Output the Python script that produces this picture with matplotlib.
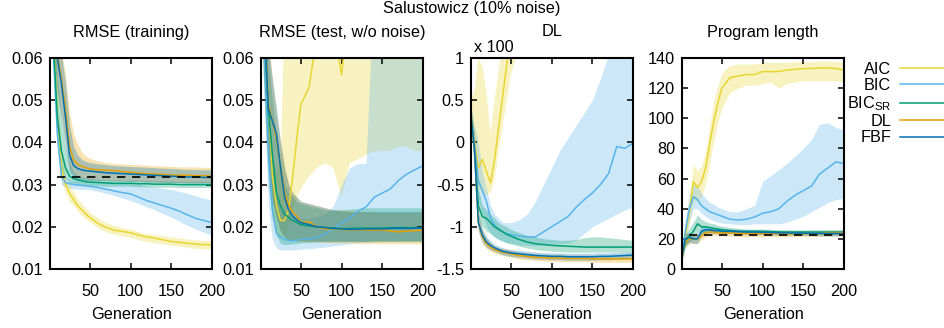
import numpy as np
import matplotlib
matplotlib.use("Agg")
import matplotlib.pyplot as plt
from matplotlib.lines import Line2D

plt.rcParams['font.family'] = ['Liberation Sans', 'DejaVu Sans']
plt.rcParams['mathtext.fontset'] = 'custom'
plt.rcParams['mathtext.rm'] = 'Liberation Sans'
plt.rcParams['mathtext.it'] = 'Liberation Sans:italic'
FS = 11.7

# ---------------- data ----------------
gens = [1, 5, 10, 15, 20, 25, 30, 35, 40, 45, 50, 60, 70, 80, 90, 100,
        110, 120, 130, 140, 150, 160, 170, 180, 190, 200]
methods = ["AIC", "BIC", "BIC$_{\\mathrm{SR}}$", "DL", "FBF"]
colors = ["#e8d630", "#56b4e9", "#009e73", "#e69f00", "#0072b2"]

panel_titles = ["RMSE (training)", "RMSE (test, w/o noise)", "DL", "Program length"]
suptitle = "Salustowicz (10% noise)"

# Panel 1: RMSE (training)
rmse_train_mean = {
    "AIC": [0.080, 0.066, 0.046, 0.034, 0.030, 0.028, 0.0265, 0.025, 0.024, 0.023, 0.0222, 0.0208, 0.0198, 0.0192, 0.0189, 0.0186, 0.0180, 0.0176, 0.0173, 0.0169, 0.0165, 0.0163, 0.0161, 0.0159, 0.0158, 0.0157],
    "BIC": [0.078, 0.062, 0.042, 0.032, 0.0305, 0.0302, 0.0300, 0.0299, 0.0298, 0.0297, 0.0296, 0.0293, 0.0289, 0.0285, 0.0281, 0.0278, 0.0270, 0.0262, 0.0256, 0.0250, 0.0244, 0.0237, 0.0228, 0.0220, 0.0215, 0.0210],
    "BICSR": [0.078, 0.064, 0.046, 0.038, 0.034, 0.032, 0.0314, 0.0311, 0.0309, 0.0307, 0.0306, 0.0305, 0.0304, 0.0303, 0.0303, 0.0303, 0.0302, 0.0302, 0.0301, 0.0301, 0.0301, 0.0300, 0.0300, 0.0300, 0.0300, 0.0300],
    "DL": [0.080, 0.069, 0.061, 0.055, 0.048, 0.039, 0.0358, 0.0348, 0.0343, 0.0340, 0.0337, 0.0335, 0.0334, 0.0333, 0.0331, 0.0329, 0.0327, 0.0326, 0.0325, 0.0324, 0.0323, 0.0322, 0.0322, 0.0321, 0.0321, 0.0320],
    "FBF": [0.080, 0.068, 0.060, 0.054, 0.046, 0.037, 0.0345, 0.0338, 0.0335, 0.0333, 0.0332, 0.0330, 0.0328, 0.0327, 0.0326, 0.0325, 0.0324, 0.0323, 0.0322, 0.0321, 0.0320, 0.0319, 0.0318, 0.0318, 0.0317, 0.0317],
}
rmse_train_lo = {
    "AIC": [0.075, 0.060, 0.040, 0.031, 0.028, 0.026, 0.0250, 0.0237, 0.0227, 0.0218, 0.0211, 0.0197, 0.0188, 0.0182, 0.0178, 0.0175, 0.0169, 0.0165, 0.0162, 0.0159, 0.0156, 0.0154, 0.0151, 0.0149, 0.0148, 0.0147],
    "BIC": [0.074, 0.057, 0.038, 0.030, 0.0295, 0.0292, 0.0290, 0.0289, 0.0288, 0.0288, 0.0288, 0.0284, 0.0279, 0.0274, 0.0268, 0.0262, 0.0255, 0.0247, 0.0240, 0.0231, 0.0223, 0.0213, 0.0203, 0.0195, 0.0187, 0.0180],
    "BICSR": [0.074, 0.058, 0.040, 0.034, 0.0315, 0.0305, 0.0302, 0.0300, 0.0299, 0.0298, 0.0297, 0.0297, 0.0296, 0.0296, 0.0296, 0.0296, 0.0295, 0.0295, 0.0294, 0.0294, 0.0294, 0.0293, 0.0293, 0.0293, 0.0293, 0.0293],
    "DL": [0.075, 0.062, 0.052, 0.046, 0.040, 0.034, 0.0325, 0.0318, 0.0315, 0.0313, 0.0312, 0.0311, 0.0310, 0.0310, 0.0309, 0.0309, 0.0308, 0.0307, 0.0307, 0.0306, 0.0306, 0.0305, 0.0305, 0.0305, 0.0305, 0.0305],
    "FBF": [0.075, 0.062, 0.052, 0.046, 0.039, 0.033, 0.0318, 0.0313, 0.0311, 0.0310, 0.0310, 0.0309, 0.0309, 0.0308, 0.0308, 0.0307, 0.0307, 0.0306, 0.0306, 0.0305, 0.0305, 0.0305, 0.0304, 0.0304, 0.0304, 0.0304],
}
rmse_train_hi = {
    "AIC": [0.085, 0.072, 0.052, 0.038, 0.032, 0.0300, 0.0282, 0.0267, 0.0255, 0.0244, 0.0235, 0.0220, 0.0210, 0.0203, 0.0198, 0.0195, 0.0188, 0.0184, 0.0182, 0.0179, 0.0176, 0.0174, 0.0171, 0.0169, 0.0168, 0.0167],
    "BIC": [0.082, 0.067, 0.047, 0.035, 0.0318, 0.0312, 0.0310, 0.0309, 0.0308, 0.0308, 0.0308, 0.0307, 0.0306, 0.0305, 0.0303, 0.0302, 0.0300, 0.0297, 0.0294, 0.0291, 0.0288, 0.0284, 0.0279, 0.0273, 0.0268, 0.0264],
    "BICSR": [0.082, 0.070, 0.055, 0.046, 0.039, 0.035, 0.0330, 0.0322, 0.0318, 0.0316, 0.0315, 0.0313, 0.0312, 0.0311, 0.0311, 0.0311, 0.0310, 0.0310, 0.0309, 0.0309, 0.0309, 0.0308, 0.0308, 0.0308, 0.0308, 0.0308],
    "DL": [0.085, 0.075, 0.068, 0.062, 0.056, 0.047, 0.042, 0.0395, 0.0378, 0.0368, 0.0362, 0.0356, 0.0352, 0.0350, 0.0349, 0.0348, 0.0347, 0.0346, 0.0345, 0.0344, 0.0343, 0.0342, 0.0342, 0.0342, 0.0341, 0.0340],
    "FBF": [0.085, 0.075, 0.067, 0.061, 0.054, 0.044, 0.0390, 0.0370, 0.0360, 0.0355, 0.0352, 0.0349, 0.0347, 0.0345, 0.0344, 0.0343, 0.0342, 0.0341, 0.0340, 0.0339, 0.0338, 0.0337, 0.0336, 0.0336, 0.0335, 0.0335],
}

# Panel 2: RMSE (test, w/o noise)
rmse_test_mean = {
    "AIC": [0.080, 0.068, 0.050, 0.032, 0.025, 0.0215, 0.0215, 0.024, 0.032, 0.041, 0.049, 0.053, 0.066, 0.075, 0.068, 0.056, 0.075, 0.085, 0.090, 0.100, 0.100, 0.110, 0.110, 0.120, 0.120, 0.120],
    "BIC": [0.080, 0.062, 0.038, 0.024, 0.0185, 0.0175, 0.0170, 0.0168, 0.0167, 0.0168, 0.0170, 0.0171, 0.0175, 0.0183, 0.0195, 0.0210, 0.0220, 0.0237, 0.0247, 0.0270, 0.0280, 0.0290, 0.0310, 0.0325, 0.0335, 0.0345],
    "BICSR": [0.080, 0.066, 0.048, 0.037, 0.028, 0.025, 0.023, 0.0222, 0.0215, 0.0210, 0.0205, 0.0202, 0.0200, 0.0198, 0.0197, 0.0196, 0.0196, 0.0197, 0.0197, 0.0197, 0.0197, 0.0198, 0.0198, 0.0198, 0.0198, 0.0198],
    "DL": [0.080, 0.070, 0.049, 0.045, 0.041, 0.034, 0.028, 0.025, 0.0235, 0.0225, 0.0210, 0.0212, 0.0200, 0.0195, 0.0195, 0.0194, 0.0193, 0.0193, 0.0193, 0.0192, 0.0193, 0.0190, 0.0188, 0.0190, 0.0191, 0.0192],
    "FBF": [0.080, 0.070, 0.048, 0.045, 0.042, 0.034, 0.027, 0.024, 0.0225, 0.0216, 0.0210, 0.0205, 0.0200, 0.0198, 0.0196, 0.0195, 0.0194, 0.0194, 0.0195, 0.0195, 0.0195, 0.0196, 0.0197, 0.0196, 0.0197, 0.0197],
}
rmse_test_lo = {
    "AIC": [0.070, 0.055, 0.035, 0.022, 0.018, 0.017, 0.018, 0.020, 0.024, 0.027, 0.029, 0.032, 0.034, 0.035, 0.034, 0.027, 0.035, 0.036, 0.037, 0.038, 0.038, 0.038, 0.039, 0.039, 0.038, 0.038],
    "BIC": [0.070, 0.050, 0.025, 0.017, 0.015, 0.0145, 0.0145, 0.0145, 0.0145, 0.0146, 0.0147, 0.0148, 0.0150, 0.0152, 0.0155, 0.0157, 0.0160, 0.0162, 0.0163, 0.0164, 0.0165, 0.0165, 0.0165, 0.0166, 0.0166, 0.0166],
    "BICSR": [0.070, 0.050, 0.030, 0.022, 0.018, 0.016, 0.0158, 0.0158, 0.0160, 0.0160, 0.0162, 0.0163, 0.0164, 0.0165, 0.0165, 0.0165, 0.0165, 0.0165, 0.0165, 0.0165, 0.0165, 0.0165, 0.0165, 0.0165, 0.0165, 0.0165],
    "DL": [0.070, 0.055, 0.035, 0.026, 0.022, 0.019, 0.0175, 0.0170, 0.0168, 0.0166, 0.0165, 0.0165, 0.0164, 0.0163, 0.0162, 0.0162, 0.0162, 0.0161, 0.0161, 0.0161, 0.0160, 0.0160, 0.0160, 0.0160, 0.0160, 0.0160],
    "FBF": [0.070, 0.055, 0.035, 0.026, 0.022, 0.019, 0.0175, 0.0170, 0.0168, 0.0167, 0.0167, 0.0166, 0.0166, 0.0166, 0.0166, 0.0166, 0.0166, 0.0166, 0.0166, 0.0167, 0.0167, 0.0167, 0.0167, 0.0167, 0.0167, 0.0167],
}
rmse_test_hi = {
    "AIC": [0.090, 0.075, 0.050, 0.038, 0.033, 0.034, 0.070, 0.100, 0.120, 0.130, 0.140, 0.150, 0.150, 0.160, 0.160, 0.160, 0.170, 0.170, 0.170, 0.180, 0.180, 0.180, 0.180, 0.180, 0.180, 0.180],
    "BIC": [0.090, 0.075, 0.050, 0.035, 0.027, 0.025, 0.024, 0.023, 0.0225, 0.0222, 0.0220, 0.0220, 0.0225, 0.0230, 0.0250, 0.0300, 0.0340, 0.0350, 0.0350, 0.0800, 0.0900, 0.0900, 0.0900, 0.0900, 0.0900, 0.0900],
    "BICSR": [0.090, 0.080, 0.060, 0.050, 0.042, 0.035, 0.030, 0.028, 0.027, 0.026, 0.0255, 0.0250, 0.0245, 0.0240, 0.0240, 0.0240, 0.0242, 0.0243, 0.0245, 0.0245, 0.0245, 0.0245, 0.0245, 0.0245, 0.0245, 0.0245],
    "DL": [0.090, 0.080, 0.065, 0.055, 0.047, 0.040, 0.034, 0.030, 0.028, 0.027, 0.026, 0.0255, 0.0250, 0.0245, 0.0240, 0.0240, 0.0238, 0.0237, 0.0236, 0.0235, 0.0235, 0.0235, 0.0235, 0.0235, 0.0235, 0.0235],
    "FBF": [0.090, 0.080, 0.063, 0.055, 0.048, 0.040, 0.034, 0.030, 0.028, 0.027, 0.026, 0.0255, 0.0250, 0.0245, 0.0240, 0.0238, 0.0236, 0.0236, 0.0236, 0.0236, 0.0236, 0.0236, 0.0236, 0.0236, 0.0236, 0.0236],
}

# Panel 3: DL (x 100)
dl_mean = {
    "AIC": [0.35, 0.05, -0.30, -0.20, -0.35, -0.48, -0.20, 0.18, 0.55, 0.93, 1.30, 1.80, 2.20, 2.50, 2.80, 3.00, 3.20, 3.40, 3.50, 3.60, 3.70, 3.80, 3.90, 4.00, 4.00, 4.00],
    "BIC": [0.35, 0.00, -0.45, -0.57, -0.70, -0.90, -0.98, -1.03, -1.06, -1.08, -1.09, -1.11, -1.12, -1.12, -1.06, -1.00, -0.94, -0.88, -0.77, -0.68, -0.60, -0.50, -0.37, -0.05, -0.07, -0.01],
    "BICSR": [0.30, -0.05, -0.75, -0.88, -0.90, -0.95, -1.00, -1.03, -1.06, -1.09, -1.11, -1.15, -1.18, -1.20, -1.21, -1.22, -1.225, -1.23, -1.235, -1.24, -1.24, -1.24, -1.24, -1.24, -1.24, -1.24],
    "DL": [0.30, -0.05, -0.95, -1.12, -1.20, -1.24, -1.27, -1.29, -1.30, -1.31, -1.32, -1.34, -1.35, -1.36, -1.365, -1.37, -1.37, -1.375, -1.375, -1.375, -1.38, -1.38, -1.38, -1.38, -1.38, -1.38],
    "FBF": [0.30, -0.05, -0.95, -1.10, -1.18, -1.22, -1.25, -1.27, -1.29, -1.30, -1.31, -1.32, -1.33, -1.34, -1.345, -1.35, -1.35, -1.355, -1.355, -1.355, -1.355, -1.35, -1.35, -1.345, -1.34, -1.335],
}
dl_lo = {
    "AIC": [0.25, -0.10, -0.55, -0.60, -0.62, -0.60, -0.45, -0.10, 0.20, 0.50, 0.80, 1.10, 1.40, 1.60, 1.80, 2.00, 2.10, 2.20, 2.30, 2.40, 2.50, 2.60, 2.60, 2.70, 2.70, 2.70],
    "BIC": [0.25, -0.30, -0.70, -0.85, -1.00, -1.08, -1.12, -1.15, -1.17, -1.19, -1.20, -1.21, -1.22, -1.22, -1.22, -1.20, -1.20, -1.19, -1.16, -1.08, -1.00, -0.95, -0.90, -0.85, -0.80, -0.77],
    "BICSR": [0.20, -0.20, -0.90, -1.00, -1.05, -1.08, -1.12, -1.15, -1.17, -1.19, -1.20, -1.23, -1.25, -1.27, -1.28, -1.29, -1.295, -1.30, -1.30, -1.30, -1.30, -1.30, -1.30, -1.30, -1.30, -1.30],
    "DL": [0.20, -0.20, -1.05, -1.20, -1.26, -1.29, -1.31, -1.33, -1.34, -1.35, -1.36, -1.38, -1.39, -1.40, -1.405, -1.41, -1.41, -1.415, -1.415, -1.415, -1.42, -1.42, -1.42, -1.42, -1.42, -1.42],
    "FBF": [0.20, -0.20, -1.05, -1.18, -1.24, -1.27, -1.29, -1.31, -1.33, -1.34, -1.35, -1.36, -1.37, -1.38, -1.385, -1.39, -1.39, -1.395, -1.395, -1.395, -1.395, -1.39, -1.39, -1.385, -1.38, -1.375],
}
dl_hi = {
    "AIC": [0.50, 0.60, 1.00, 0.90, 0.60, 0.10, 0.50, 0.85, 1.20, 1.50, 1.90, 2.50, 3.00, 3.30, 3.60, 3.80, 4.00, 4.20, 4.40, 4.50, 4.60, 4.70, 4.80, 4.90, 5.00, 5.00],
    "BIC": [0.45, 0.20, 0.00, -0.35, -0.55, -0.75, -0.85, -0.90, -0.95, -0.95, -0.95, -0.92, -0.85, -0.70, -0.50, -0.30, -0.10, 0.05, 0.20, 0.35, 0.50, 0.75, 1.05, 1.30, 1.50, 1.60],
    "BICSR": [0.40, 0.10, -0.55, -0.75, -0.80, -0.85, -0.90, -0.95, -0.98, -1.00, -1.03, -1.07, -1.10, -1.12, -1.14, -1.15, -1.16, -1.16, -1.15, -1.13, -1.12, -1.12, -1.13, -1.14, -1.15, -1.16],
    "DL": [0.40, 0.10, -0.85, -1.04, -1.14, -1.19, -1.23, -1.25, -1.26, -1.27, -1.28, -1.30, -1.31, -1.32, -1.325, -1.33, -1.33, -1.335, -1.335, -1.335, -1.34, -1.34, -1.34, -1.34, -1.34, -1.34],
    "FBF": [0.40, 0.10, -0.85, -1.02, -1.12, -1.17, -1.21, -1.23, -1.25, -1.26, -1.27, -1.28, -1.29, -1.30, -1.305, -1.31, -1.31, -1.315, -1.315, -1.315, -1.315, -1.31, -1.31, -1.305, -1.30, -1.295],
}

# Panel 4: Program length
len_mean = {
    "AIC": [8, 22, 38, 58, 54, 58, 67, 83, 98, 110, 120, 127, 128, 129, 129, 131, 131, 131, 132, 132.5, 133, 133, 133.5, 133.5, 133, 132],
    "BIC": [8, 25, 40, 48, 46, 42, 40, 38, 37, 36, 35, 33, 32.5, 33, 34.5, 37, 38, 40, 45, 49, 52, 55, 63, 67, 71, 70],
    "BICSR": [8, 18, 22, 25, 30, 28, 28, 27.5, 27, 26.5, 26, 25.5, 25, 25, 25, 25, 24.8, 24.6, 24.5, 24.5, 24.5, 24.5, 24.5, 24.5, 24.5, 24.5],
    "DL": [8, 18, 20, 20, 20, 22, 24, 24.5, 24.5, 24, 24, 24, 23.5, 23.5, 23.5, 23.5, 23.5, 23.5, 23.3, 23.3, 23.5, 23.5, 23.5, 23.8, 23.8, 24],
    "FBF": [8, 20, 21, 20, 20, 25, 26, 26, 25.5, 25.5, 25, 25, 24.8, 24.5, 24.5, 24.3, 24.2, 24, 24, 23.8, 23.8, 23.6, 23.6, 23.5, 23.5, 23.5],
}
len_lo = {
    "AIC": [6, 16, 30, 46, 45, 48, 56, 70, 85, 97, 107, 117, 120, 122, 122, 123, 124, 120, 123, 124, 125, 125, 125, 125, 125, 124],
    "BIC": [6, 18, 32, 40, 40, 37, 35, 33, 32, 31, 30.5, 30, 29.5, 29.5, 30, 30, 30, 30, 31, 33, 35, 38, 41, 44, 46, 47],
    "BICSR": [6, 14, 18, 20, 24, 24, 24.5, 24.5, 24.5, 24.5, 24, 24, 23.5, 23.5, 23.5, 23.5, 23.3, 23.2, 23, 23, 23, 23, 23, 23, 23, 23],
    "DL": [6, 15, 17, 17, 17, 19.5, 21.5, 22, 22.5, 22, 22, 22, 21.5, 21.5, 21.5, 21.5, 21.5, 21.5, 21.3, 21.3, 21.5, 21.5, 21.5, 21.8, 21.8, 22],
    "FBF": [6, 16, 18, 17, 17, 22, 23.5, 24, 23.5, 23.5, 23.5, 23.5, 23.3, 23, 23, 22.8, 22.7, 22.5, 22.5, 22.3, 22.3, 22.1, 22.1, 22, 22, 22],
}
len_hi = {
    "AIC": [10, 28, 46, 70, 65, 68, 78, 95, 112, 122, 130, 135, 136, 136, 136, 137, 137, 137, 137, 137.5, 137.5, 137.5, 138, 138, 137.5, 137],
    "BIC": [10, 32, 50, 56, 55, 50, 47, 44, 43, 41, 40, 38, 38, 40, 42, 58, 62, 66, 70, 75, 80, 86, 96, 97, 94, 92],
    "BICSR": [10, 22, 27, 31, 36, 33, 31.5, 30.5, 30, 29, 28.5, 27.5, 27, 26.5, 26.5, 26.5, 26.3, 26.1, 26, 26, 26, 26, 26, 26, 26, 26],
    "DL": [10, 22, 23, 23, 23, 24.5, 26.5, 27, 26.5, 26, 26, 26, 25.5, 25.5, 25.5, 25.5, 25.5, 25.5, 25.3, 25.3, 25.5, 25.5, 25.5, 25.8, 25.8, 26],
    "FBF": [10, 24, 24, 23, 23, 28, 28.5, 28, 27.5, 27.5, 27, 26.5, 26.3, 26, 26, 25.8, 25.7, 25.5, 25.5, 25.3, 25.3, 25.1, 25.1, 25, 25, 25],
}

ref_gens = [10, 200]
ref_rmse_train = 0.0318
ref_length = 22.6

keys = ["AIC", "BIC", "BICSR", "DL", "FBF"]
panels = [
    (rmse_train_mean, rmse_train_lo, rmse_train_hi, (0.01, 0.06), [0.01, 0.02, 0.03, 0.04, 0.05, 0.06],
     ["0.01", "0.02", "0.03", "0.04", "0.05", "0.06"]),
    (rmse_test_mean, rmse_test_lo, rmse_test_hi, (0.01, 0.06), [0.01, 0.02, 0.03, 0.04, 0.05, 0.06],
     ["0.01", "0.02", "0.03", "0.04", "0.05", "0.06"]),
    (dl_mean, dl_lo, dl_hi, (-1.5, 1.0), [-1.5, -1, -0.5, 0, 0.5, 1],
     ["-1.5", "-1", "-0.5", "0", "0.5", "1"]),
    (len_mean, len_lo, len_hi, (0, 140), [0, 20, 40, 60, 80, 100, 120, 140],
     ["0", "20", "40", "60", "80", "100", "120", "140"]),
]

W, H = 944, 328
fig = plt.figure(figsize=(W / 100, H / 100), dpi=100)
lefts = [50, 261, 471, 682]
axw, top_px, bot_px = 162, 58, 269
axes = []
for i, (mean, lo, hi, ylim, yt, ytl) in enumerate(panels):
    ax = fig.add_axes([lefts[i] / W, 1 - bot_px / H, axw / W, (bot_px - top_px) / H])
    axes.append(ax)
    for k, c in zip(keys, colors):
        ax.fill_between(gens, lo[k], hi[k], color=c, alpha=0.3, lw=0)
    for k, c in zip(keys, colors):
        ax.plot(gens, mean[k], color=c, lw=1.1)
    ax.set_xlim(1, 200)
    ax.set_ylim(*ylim)
    ax.set_xticks([50, 100, 150, 200])
    ax.set_xticklabels(["50", "100", "150", "200"])
    ax.set_yticks(yt)
    ax.set_yticklabels(ytl)
    ax.tick_params(direction="in", top=True, right=True, length=4, width=1.1,
                   labelsize=FS, colors="black")
    ax.tick_params(axis="x", pad=10.5)
    ax.tick_params(axis="y", pad=5)
    for s in ax.spines.values():
        s.set_linewidth(1.5)
    ax.set_xlabel("Generation", fontsize=FS, labelpad=6)
    ax.text(0.5, 1 + 26 / 211, panel_titles[i], transform=ax.transAxes,
            ha="center", va="center", fontsize=FS)

axes[0].plot(ref_gens, [ref_rmse_train] * 2, color="black", ls=(0, (5, 4)), lw=1.2, zorder=5)
axes[3].plot(ref_gens, [ref_length] * 2, color="black", ls=(0, (5, 4)), lw=1.2, zorder=5)
axes[2].text(0.02, 1 + 10 / 211, "x 100", transform=axes[2].transAxes,
             ha="left", va="center", fontsize=FS)

fig.text(0.5, 1 - 9 / H, suptitle, ha="center", va="center", fontsize=FS)

handles = [Line2D([0], [0], color=c, lw=1.1) for c in colors]
fig.legend(handles, methods, loc="upper right", bbox_to_anchor=(1.005, 1 - 62 / H),
           markerfirst=False, frameon=False, fontsize=FS, handlelength=3.0,
           handletextpad=0.55, labelspacing=0.07, borderpad=0, borderaxespad=0)

fig.savefig("out.png", dpi=100)
